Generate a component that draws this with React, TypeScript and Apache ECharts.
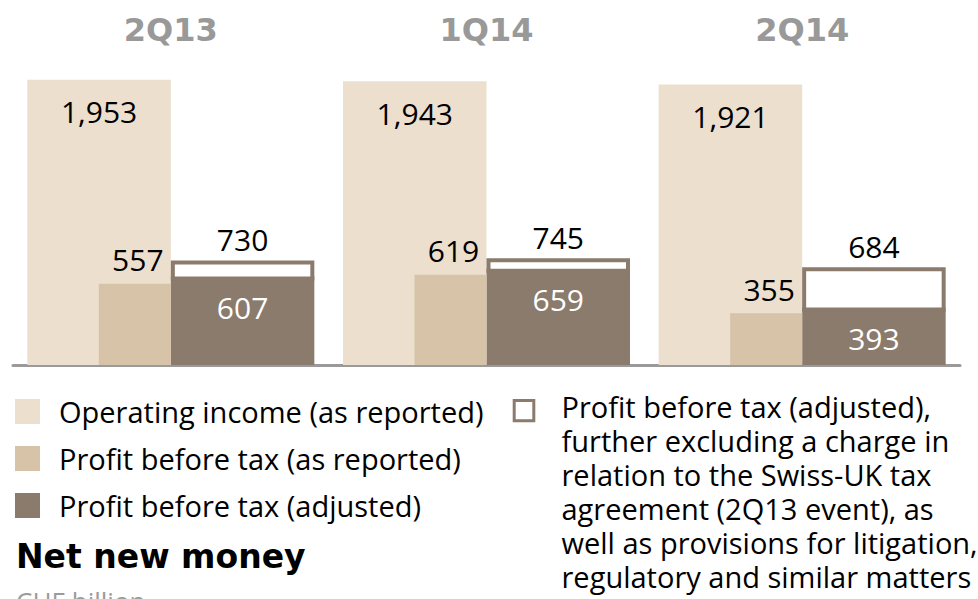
import React, { useEffect, useRef } from "react";
import * as echarts from "echarts";

const categories = ["2Q13", "1Q14", "2Q14"];
const operatingIncome = [1953, 1943, 1921];
const pbtReported = [557, 619, 355];
const pbtAdjusted = [607, 659, 393];
const pbtFurtherAdjusted = [730, 745, 684];

const legendNames = [
  "Operating income (as reported)",
  "Profit before tax (as reported)",
  "Profit before tax (adjusted)",
];
const furtherLegendLines = [
  "Profit before tax (adjusted),",
  "further excluding a charge in",
  "relation to the Swiss-UK tax",
  "agreement (2Q13 event), as",
  "well as provisions for litigation,",
  "regulatory and similar matters",
];
const sectionTitle = "Net new money";
const sectionUnit = "CHF billion";

const FONT = "'Open Sans', sans-serif";
const C_OI = "#ecdfce";
const C_PBT = "#d6c3a8";
const C_ADJ = "#8a7b6c";
const BAR_W = 143.5;

const fmt = (v: number) => Number(v).toLocaleString("en-US");

export default function App() {
  const ref = useRef<HTMLDivElement>(null);

  useEffect(() => {
    if (!ref.current) return;
    const chart = echarts.init(ref.current, undefined, { renderer: "svg" });
    const valueLabel = {
      show: true,
      fontFamily: FONT,
      fontSize: 30,
      color: "#000",
      formatter: (p: any) => fmt(p.value),
    };
    const option: any = {
      animation: false,
      grid: { left: 13, right: 18, top: 73, bottom: 234, containLabel: false },
      xAxis: [
        {
          type: "category",
          data: categories,
          position: "bottom",
          offset: 1,
          axisLine: { show: true, lineStyle: { color: "#9a9a9a", width: 3 } },
          axisTick: { show: false },
          axisLabel: { show: false },
          splitLine: { show: false },
        },
        {
          type: "category",
          data: categories,
          position: "top",
          axisLine: { show: false },
          axisTick: { show: false },
          splitLine: { show: false },
          axisLabel: {
            show: true,
            margin: 27,
            color: "#999999",
            fontFamily: "'DejaVu Sans', sans-serif",
            fontWeight: "bold",
            fontSize: 32,
          },
        },
      ],
      yAxis: { type: "value", min: 0, max: 2000, show: false, splitLine: { show: false } },
      legend: {
        show: true,
        orient: "vertical",
        left: 15,
        top: 395,
        padding: 0,
        itemWidth: 25,
        itemHeight: 25,
        itemGap: 14,
        selectedMode: false,
        icon: "rect",
        data: legendNames,
        textStyle: {
          fontFamily: FONT,
          fontSize: 29,
          color: "#000",
          lineHeight: 25,
          padding: [8, 0, 0, 14],
        },
      },
      series: [
        {
          name: legendNames[0],
          type: "bar",
          xAxisIndex: 0,
          data: operatingIncome,
          barWidth: BAR_W,
          barGap: "0%",
          itemStyle: { color: C_OI },
          z: 1,
          label: { ...valueLabel, position: "insideTop", distance: 17 },
        },
        {
          name: legendNames[2],
          type: "bar",
          xAxisIndex: 0,
          data: pbtAdjusted,
          barWidth: BAR_W,
          barGap: "0%",
          itemStyle: { color: C_ADJ },
          z: 2,
          label: { ...valueLabel, color: "#ffffff", position: "insideTop", distance: 16 },
        },
        {
          name: legendNames[1],
          type: "bar",
          xAxisIndex: 1,
          data: pbtReported,
          barWidth: 72,
          barGap: "0%",
          itemStyle: { color: C_PBT },
          z: 3,
          label: { ...valueLabel, position: "top", distance: 9, offset: [3, 0] },
        },
        {
          name: "spacer",
          type: "bar",
          xAxisIndex: 1,
          data: categories.map(() => "-"),
          barWidth: 72,
          barGap: "0%",
          silent: true,
          itemStyle: { color: "transparent" },
        },
        {
          name: "further",
          type: "custom",
          xAxisIndex: 0,
          z: 4,
          silent: true,
          encode: { x: 0, y: [1, 2] },
          data: pbtAdjusted.map((a, i) => [i, a, pbtFurtherAdjusted[i]]),
          renderItem: (params: any, api: any) => {
            const i = api.value(0);
            const lo = api.coord([i, api.value(1)]);
            const hi = api.coord([i, api.value(2)]);
            const x0 = lo[0];
            const lw = 4;
            const topOuter = hi[1] + 2;
            return {
              type: "group",
              children: [
                {
                  type: "rect",
                  shape: {
                    x: x0 + lw / 2,
                    y: topOuter + lw / 2,
                    width: BAR_W - lw,
                    height: lo[1] - topOuter,
                  },
                  style: { fill: "#ffffff", stroke: C_ADJ, lineWidth: lw },
                },
                {
                  type: "text",
                  x: x0 + BAR_W / 2,
                  y: topOuter - 21,
                  style: {
                    text: fmt(api.value(2)),
                    fill: "#000",
                    font: `30px ${FONT}`,
                    align: "center",
                    verticalAlign: "middle",
                  },
                },
              ],
            };
          },
        },
      ],
      graphic: [
        {
          type: "rect",
          shape: { x: 514.2, y: 400.5, width: 19.6, height: 20.3 },
          style: { fill: "#ffffff", stroke: C_ADJ, lineWidth: 3 },
        },
        {
          type: "text",
          x: 561.5,
          y: 389,
          style: {
            text: furtherLegendLines.join("\n"),
            fill: "#000",
            font: `29px ${FONT}`,
            lineHeight: 34,
            align: "left",
            verticalAlign: "top",
          },
        },
        {
          type: "text",
          x: 16,
          y: 556,
          style: {
            text: sectionTitle,
            fill: "#000",
            font: `bold 33px 'DejaVu Sans', sans-serif`,
            align: "left",
            verticalAlign: "middle",
          },
        },
        {
          type: "text",
          x: 16,
          y: 587.5,
          style: {
            text: sectionUnit,
            fill: "#9b9b9b",
            font: `26px ${FONT}`,
            lineHeight: 26,
            align: "left",
            verticalAlign: "top",
          },
        },
      ],
    };
    chart.setOption(option);
    return () => chart.dispose();
  }, []);

  return (
    <div style={{ position: "fixed", left: 0, top: 0, width: 978, height: 599, background: "#fff" }}>
      <div ref={ref} style={{ width: 978, height: 599 }} />
    </div>
  );
}
